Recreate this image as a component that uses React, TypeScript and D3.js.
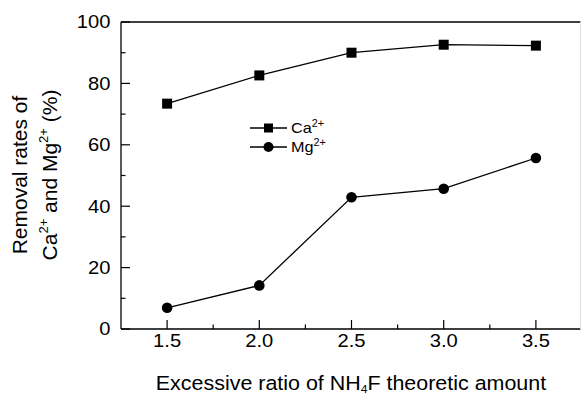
import React from "react";
import * as d3 from "d3";

const ratios = [1.5, 2.0, 2.5, 3.0, 3.5];
const caValues = [73.4, 82.6, 90.0, 92.6, 92.3];
const mgValues = [6.9, 14.2, 42.9, 45.7, 55.7];
const xTicks = [1.5, 2.0, 2.5, 3.0, 3.5];
const xMinorTicks = [1.75, 2.25, 2.75, 3.25];
const yTicks = [0, 20, 40, 60, 80, 100];
const yMinorTicks = [10, 30, 50, 70, 90];

const W = 581;
const H = 397;
const margin = { left: 121, top: 22, right: 0.5, bottom: 68 };
const FONT = "Liberation Sans, Arial, Helvetica, sans-serif";

function T(props: {
  x: number;
  y: number;
  sx?: number;
  size: number;
  anchor?: string;
  dy?: string;
  children: React.ReactNode;
}) {
  const { x, y, sx = 1.12, size, anchor = "start", dy, children } = props;
  return (
    <g transform={`translate(${x},${y}) scale(${sx},1)`}>
      <text x={0} y={0} dy={dy} textAnchor={anchor} fontSize={size} fill="#000">
        {children}
      </text>
    </g>
  );
}

export default function App() {
  const x = d3.scaleLinear().domain([1.25, 3.75]).range([margin.left, margin.left + 461]);
  const y = d3.scaleLinear().domain([0, 100]).range([H - margin.bottom, margin.top]);
  const line = d3
    .line<number>()
    .x((_, i) => x(ratios[i]))
    .y((d) => y(d));
  const x0 = margin.left;
  const x1 = W - margin.right;
  const y0 = y(0);
  const y1 = y(100);

  return (
    <svg
      width={W}
      height={H}
      style={{ position: "absolute", left: 0, top: 0, background: "#fff" }}
      fontFamily={FONT}
    >
      <rect x={0} y={0} width={W} height={H} fill="#fff" />
      {/* frame */}
      <line x1={x0} x2={x1} y1={y1} y2={y1} stroke="#000" strokeWidth={1.3} />
      <line x1={x0} x2={x1} y1={y0} y2={y0} stroke="#000" strokeWidth={1.3} />
      <line x1={x0} x2={x0} y1={y0} y2={y1} stroke="#000" strokeWidth={1.3} />
      <line x1={x1} x2={x1} y1={y0} y2={y1} stroke="#ddd" strokeWidth={1} />
      {/* y ticks */}
      {yTicks.map((t) => (
        <g key={"yt" + t}>
          <line x1={x0} x2={x0 + 9} y1={y(t)} y2={y(t)} stroke="#000" strokeWidth={1.2} />
          <T x={x0 - 10.5} y={y(t)} dy="0.36em" anchor="end" size={18}>
            {t}
          </T>
        </g>
      ))}
      {yMinorTicks.map((t) => (
        <line key={"ym" + t} x1={x0} x2={x0 + 4.5} y1={y(t)} y2={y(t)} stroke="#000" strokeWidth={1.2} />
      ))}
      {/* x ticks */}
      {xTicks.map((t) => (
        <g key={"xt" + t}>
          <line x1={x(t)} x2={x(t)} y1={y0} y2={y0 - 9} stroke="#000" strokeWidth={1.2} />
          <T x={x(t)} y={y0 + 17.5} anchor="middle" size={18}>
            {t.toFixed(1)}
          </T>
        </g>
      ))}
      {xMinorTicks.map((t) => (
        <line key={"xm" + t} x1={x(t)} x2={x(t)} y1={y0} y2={y0 - 4.5} stroke="#000" strokeWidth={1.2} />
      ))}
      {/* series */}
      <path d={line(caValues) || ""} fill="none" stroke="#000" strokeWidth={1.3} />
      <path d={line(mgValues) || ""} fill="none" stroke="#000" strokeWidth={1.3} />
      {caValues.map((v, i) => (
        <rect key={"ca" + i} x={x(ratios[i]) - 5} y={y(v) - 5} width={10} height={10} fill="#000" />
      ))}
      {mgValues.map((v, i) => (
        <circle key={"mg" + i} cx={x(ratios[i])} cy={y(v)} r={5.3} fill="#000" />
      ))}
      {/* legend */}
      <g>
        <line x1={250} x2={287} y1={128} y2={128} stroke="#000" strokeWidth={1.3} />
        <rect x={268.5 - 4.5} y={128 - 4.5} width={9} height={9} fill="#000" />
        <T x={291} y={128} dy="0.36em" size={15} sx={1.08}>
          Ca<tspan dy="-6" fontSize={10}>2+</tspan>
        </T>
        <line x1={250} x2={287} y1={147} y2={147} stroke="#000" strokeWidth={1.3} />
        <circle cx={268.5} cy={147} r={5} fill="#000" />
        <T x={291} y={147} dy="0.36em" size={15} sx={1.08}>
          Mg<tspan dy="-6" fontSize={10}>2+</tspan>
        </T>
      </g>
      {/* y label */}
      <g transform="translate(27,175) rotate(-90)">
        <text x={0} y={0} textAnchor="middle" fontSize={21}>
          Removal rates of
        </text>
        <text x={0} y={30} textAnchor="middle" fontSize={21}>
          Ca<tspan dy="-9" fontSize={13}>2+</tspan>
          <tspan dy="9"> and Mg</tspan>
          <tspan dy="-9" fontSize={13}>2+</tspan>
          <tspan dy="9"> (%)</tspan>
        </text>
      </g>
      {/* x label */}
      <T x={351} y={389.5} anchor="middle" size={19.5} sx={1.1}>
        Excessive ratio of NH<tspan dy="3.5" fontSize={11}>4</tspan>
        <tspan dy="-3.5">F theoretic amount</tspan>
      </T>
    </svg>
  );
}
